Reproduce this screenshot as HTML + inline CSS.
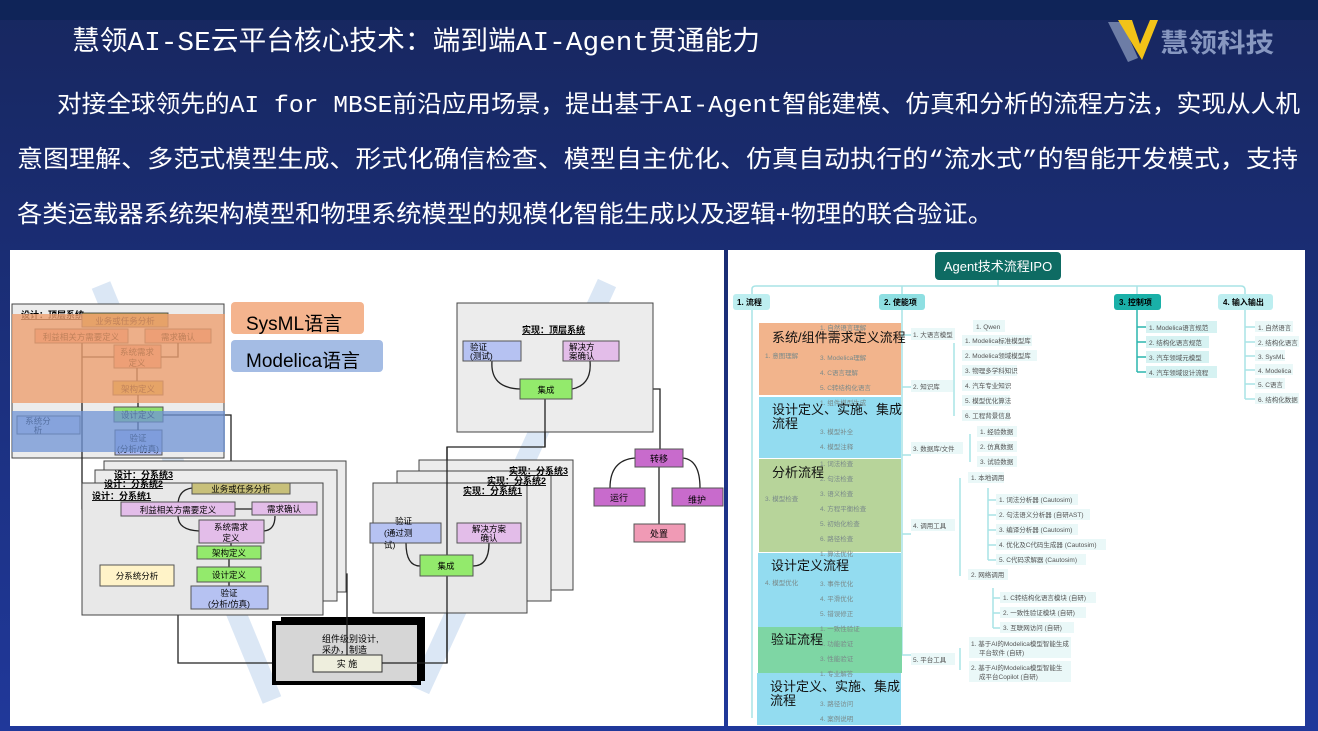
<!DOCTYPE html>
<html><head><meta charset="utf-8"><style>
html,body{margin:0;padding:0;width:1318px;height:731px;overflow:hidden;background:#1b2c72}
svg{display:block}
text{font-family:"Liberation Sans","Noto Sans CJK SC",sans-serif}
.m{font-family:"Liberation Mono","Noto Sans CJK SC",monospace}
</style></head><body>
<svg width="1318" height="731" viewBox="0 0 1318 731" xmlns="http://www.w3.org/2000/svg">
<defs>
<linearGradient id="bg" x1="0" y1="0" x2="0" y2="1"><stop offset="0" stop-color="#17275f"/><stop offset="1" stop-color="#20389a"/></linearGradient>
</defs>
<rect width="1318" height="731" fill="url(#bg)"/>
<rect width="1318" height="20" fill="#0f2458"/>
<!-- header -->
<text class="m" x="72" y="50" font-size="27" fill="#fff" textLength="688" lengthAdjust="spacingAndGlyphs">慧领AI-SE云平台核心技术：端到端AI-Agent贯通能力</text>
<text class="m" x="57" y="112" font-size="24" fill="#fff" textLength="1243" lengthAdjust="spacingAndGlyphs">对接全球领先的AI for MBSE前沿应用场景，提出基于AI-Agent智能建模、仿真和分析的流程方法，实现从人机</text>
<text class="m" x="17" y="167" font-size="24" fill="#fff" textLength="1281" lengthAdjust="spacingAndGlyphs">意图理解、多范式模型生成、形式化确信检查、模型自主优化、仿真自动执行的“流水式”的智能开发模式，支持</text>
<text class="m" x="17" y="222" font-size="24" fill="#fff" textLength="976" lengthAdjust="spacingAndGlyphs">各类运载器系统架构模型和物理系统模型的规模化智能生成以及逻辑+物理的联合验证。</text>
<!-- logo -->
<path d="M1108 22 L1122 22 L1138 58 L1128 62 Z" fill="#6d7da6"/>
<path d="M1118 20 L1132 20 L1140 44 L1150 20 L1158 20 L1142 60 Z" fill="#f2c318"/>
<text x="1160" y="52" font-size="26" fill="#8797c0" font-weight="bold" textLength="114" lengthAdjust="spacingAndGlyphs">慧领科技</text>

<!-- LEFT PANEL -->
<rect x="10" y="250" width="714" height="476" fill="#fff"/>
<line x1="101" y1="285" x2="272" y2="700" stroke="#dbe7f5" stroke-width="20"/>
<line x1="607" y1="283" x2="420" y2="690" stroke="#dbe7f5" stroke-width="20"/>
<!-- top design system -->
<rect x="12" y="304" width="212" height="154" fill="#ececec" stroke="#444" stroke-width="1"/>
<text x="21" y="318" font-size="9" font-weight="bold" text-decoration="underline">设计：顶层系统</text>
<g font-size="8.5" text-anchor="middle" stroke-width="1">
<rect x="82" y="313" width="86" height="14" fill="#c9a84a" stroke="#555"/><text x="125" y="324">业务或任务分析</text>
<rect x="35" y="329" width="93" height="14" fill="#e89a8a" stroke="#555"/><text x="81" y="340">利益相关方需要定义</text>
<rect x="145" y="329" width="66" height="14" fill="#e89a8a" stroke="#555"/><text x="178" y="340">需求确认</text>
<rect x="114" y="345" width="47" height="23" fill="#e89a8a" stroke="#555"/><text x="137" y="355">系统需求</text><text x="137" y="366">定义</text>
<rect x="113" y="381" width="50" height="14" fill="#c9b640" stroke="#555"/><text x="138" y="392">架构定义</text>
<rect x="114" y="407" width="49" height="15" fill="#8fe070" stroke="#555"/><text x="138" y="418">设计定义</text>
<rect x="115" y="430" width="47" height="25" fill="#aab8f0" stroke="#555"/><text x="138" y="441">验证</text><text x="138" y="452">(分析/仿真)</text>
<rect x="17" y="416" width="63" height="18" fill="#c8d0f0" stroke="#555"/><text x="38" y="424">系统分</text><text x="38" y="433">析</text>
</g>
<g fill="none" stroke="#222" stroke-width="1.3">
<path d="M82 343 V509 H121"/><path d="M82 357 H114"/><path d="M178 343 V357 H161"/>
<path d="M137 368 V381"/><path d="M138 395 V407"/><path d="M138 422 V430"/>
<path d="M163 415 H231 V483"/><path d="M178 488 V663 H313"/>
<path d="M261 574 H347 V655"/>
<path d="M382 663 H447 V447 H545 V399"/>
<path d="M572 389 H660 V449"/><path d="M659 467 V524"/>
<path d="M635 458 Q610 460 610 488"/><path d="M683 458 Q700 460 700 488"/>
</g>
<!-- overlays -->
<rect x="12" y="314" width="213" height="89" fill="#eda070" opacity="0.8"/>
<rect x="12" y="411" width="213" height="41" fill="#7094d6" opacity="0.75"/>
<rect x="231" y="302" width="133" height="32" rx="4" fill="#f4b48e"/>
<text x="246" y="330" font-size="19">SysML语言</text>
<rect x="231" y="340" width="152" height="32" rx="4" fill="#a4bce4"/>
<text x="246" y="367" font-size="19">Modelica语言</text>
<!-- subsystem stacks -->
<rect x="104" y="461" width="242" height="131" fill="#ececec" stroke="#444"/>
<rect x="95" y="470" width="242" height="131" fill="#ececec" stroke="#444"/>
<rect x="82" y="483" width="241" height="132" fill="#e8e8e8" stroke="#444"/>
<g font-size="9" font-weight="bold" text-decoration="underline">
<text x="114" y="478">设计：分系统3</text><text x="104" y="487">设计：分系统2</text><text x="92" y="499">设计：分系统1</text>
</g>
<g fill="none" stroke="#222" stroke-width="1.3">
<path d="M192 488 Q178 490 178 505"/><path d="M235 509 H252"/><path d="M178 516 Q178 530 199 531"/><path d="M275 516 Q275 530 264 531"/>
<path d="M231 543 V546"/><path d="M229 559 V567"/><path d="M229 582 V586"/>
</g>
<g font-size="8.5" text-anchor="middle">
<rect x="192" y="483" width="98" height="11" fill="#c8c07a" stroke="#555"/><text x="241" y="492">业务或任务分析</text>
<rect x="121" y="502" width="114" height="14" fill="#e3bde9" stroke="#555"/><text x="178" y="513">利益相关方需要定义</text>
<rect x="252" y="502" width="65" height="13" fill="#e3bde9" stroke="#555"/><text x="284" y="512">需求确认</text>
<rect x="199" y="520" width="65" height="23" fill="#e3bde9" stroke="#555"/><text x="231" y="530">系统需求</text><text x="231" y="541">定义</text>
<rect x="197" y="546" width="64" height="13" fill="#93ea6c" stroke="#555"/><text x="229" y="556">架构定义</text>
<rect x="197" y="567" width="64" height="15" fill="#93ea6c" stroke="#555"/><text x="229" y="578">设计定义</text>
<rect x="191" y="586" width="77" height="23" fill="#b6c2f2" stroke="#555"/><text x="229" y="596">验证</text><text x="229" y="607">(分析/仿真)</text>
<rect x="100" y="565" width="74" height="21" fill="#fff3c8" stroke="#555"/><text x="137" y="579">分系统分析</text>
</g>
<!-- implementation -->
<rect x="281" y="617" width="144" height="64" fill="#000"/>
<rect x="274" y="623" width="145" height="60" fill="#d6d6d6" stroke="#000" stroke-width="4"/>
<text x="322" y="642" font-size="9">组件级别设计,</text><text x="322" y="653" font-size="9">采办，制造</text>
<rect x="313" y="655" width="69" height="17" fill="#eeeedd" stroke="#333"/><text x="347" y="667" font-size="9" text-anchor="middle">实 施</text>
<path d="M347 617 V655 M382 663 H425" stroke="#222" stroke-width="1.3"/>
<!-- realization top -->
<rect x="457" y="303" width="196" height="129" fill="#ececec" stroke="#444"/>
<text x="522" y="333" font-size="9" font-weight="bold" text-decoration="underline">实现：顶层系统</text>
<g fill="none" stroke="#222" stroke-width="1.3"><path d="M492 361 Q490 388 520 389"/><path d="M590 361 Q592 385 572 389"/><path d="M545 399 V447"/></g>
<g font-size="8.5">
<rect x="463" y="341" width="58" height="20" fill="#b6c2f2" stroke="#555"/><text x="470" y="350">验证</text><text x="470" y="359">(测试)</text>
<rect x="563" y="341" width="56" height="20" fill="#e3bde9" stroke="#555"/><text x="569" y="350">解决方</text><text x="569" y="359">案确认</text>
<rect x="520" y="379" width="52" height="20" fill="#93ea6c" stroke="#555"/><text x="546" y="393" text-anchor="middle">集成</text>
</g>
<!-- realization stack -->
<rect x="419" y="460" width="154" height="130" fill="#ececec" stroke="#444"/>
<rect x="397" y="471" width="154" height="130" fill="#ececec" stroke="#444"/>
<rect x="373" y="483" width="154" height="130" fill="#e8e8e8" stroke="#444"/>
<g font-size="9" font-weight="bold" text-decoration="underline">
<text x="509" y="474">实现：分系统3</text><text x="487" y="484">实现：分系统2</text><text x="463" y="494">实现：分系统1</text>
</g>
<path d="M447 447 V663" stroke="#222" stroke-width="1.3" fill="none"/>
<g fill="none" stroke="#222" stroke-width="1.3"><path d="M406 543 Q406 566 420 566"/><path d="M489 543 Q489 566 473 566"/></g>
<g font-size="8.5">
<rect x="370" y="523" width="71" height="20" fill="#b6c2f2" stroke="#555"/><text x="395" y="524">验证</text><text x="384" y="536">(通过测</text><text x="384" y="548">试)</text>
<rect x="457" y="523" width="64" height="20" fill="#e3bde9" stroke="#555"/><text x="489" y="532" text-anchor="middle">解决方案</text><text x="489" y="541" text-anchor="middle">确认</text>
<rect x="420" y="555" width="53" height="21" fill="#93ea6c" stroke="#555"/><text x="446" y="569" text-anchor="middle">集成</text>
</g>
<g font-size="9" text-anchor="middle">
<rect x="635" y="449" width="48" height="18" fill="#c86bcc" stroke="#555"/><text x="659" y="462">转移</text>
<rect x="594" y="488" width="51" height="18" fill="#c86bcc" stroke="#555"/><text x="619" y="501">运行</text>
<rect x="672" y="488" width="51" height="18" fill="#c86bcc" stroke="#555"/><text x="697" y="503">维护</text>
<rect x="634" y="524" width="51" height="18" fill="#f09ab5" stroke="#555"/><text x="659" y="537">处置</text>
</g>

<!-- RIGHT PANEL -->
<rect x="728" y="250" width="577" height="476" fill="#fff"/>
<g fill="none" stroke="#a8e4e6" stroke-width="1.5">
<path d="M752 294 V289 Q752 286 756 286 H1241 Q1245 286 1245 290 V294"/>
<path d="M998 280 V286"/><path d="M902 286 V294"/><path d="M1137 286 V294"/>
<path d="M752 310 V718"/>
<path d="M902 310 V335 M902 335 H911 M902 310 V387 H911 M902 387 V455 H911 M902 455 V534 H911 M902 534 V655 H911"/>
<path d="M1137 310 V372 M1137 327 H1146 M1137 342 H1146 M1137 357 H1146 M1137 372 H1146" stroke="#2bb5ae"/>
<path d="M1245 310 V399 M1245 327 H1255 M1245 342 H1255 M1245 356 H1255 M1245 370 H1255 M1245 384 H1255 M1245 399 H1255"/>
<path d="M954 343 V416"/><path d="M970 434 V462"/><path d="M960 478 V576"/><path d="M988 488 V560 M988 500 H996 M988 515 H996 M988 530 H996 M988 545 H996 M988 560 H996"/>
<path d="M993 588 V628 M993 598 H1000 M993 613 H1000 M993 628 H1000"/><path d="M960 648 V670"/>
</g>
<rect x="935" y="252" width="126" height="28" rx="4" fill="#0e6b63"/>
<text x="998" y="271" font-size="13" fill="#fff" text-anchor="middle">Agent技术流程IPO</text>
<g font-size="8" font-weight="bold">
<rect x="733" y="294" width="37" height="16" rx="3" fill="#bdeef0"/><text x="737" y="305">1. 流程</text>
<rect x="879" y="294" width="46" height="16" rx="3" fill="#8edfe2"/><text x="884" y="305">2. 使能项</text>
<rect x="1114" y="294" width="47" height="16" rx="3" fill="#1ab0a8"/><text x="1119" y="305">3. 控制项</text>
<rect x="1218" y="294" width="55" height="16" rx="3" fill="#bdeef0"/><text x="1223" y="305">4. 输入输出</text>
</g>
<g font-size="6.5" fill="#555">
<rect x="911" y="328" width="44" height="12" fill="#eaf8f8"/><text x="913" y="337">1. 大语言模型</text>
<rect x="973" y="320" width="32" height="12" fill="#eaf8f8"/><text x="976" y="329">1. Qwen</text>
<rect x="911" y="380" width="42" height="12" fill="#eaf8f8"/><text x="913" y="389">2. 知识库</text>
<g>
<rect x="962" y="335" width="70" height="11" fill="#eaf8f8"/><text x="965" y="343">1. Modelica标准模型库</text>
<rect x="962" y="350" width="75" height="11" fill="#eaf8f8"/><text x="965" y="358">2. Modelica领域模型库</text>
<rect x="962" y="365" width="55" height="11" fill="#eaf8f8"/><text x="965" y="373">3. 物理多学科知识</text>
<rect x="962" y="380" width="48" height="11" fill="#eaf8f8"/><text x="965" y="388">4. 汽车专业知识</text>
<rect x="962" y="395" width="48" height="11" fill="#eaf8f8"/><text x="965" y="403">5. 模型优化算法</text>
<rect x="962" y="410" width="48" height="11" fill="#eaf8f8"/><text x="965" y="418">6. 工程背景信息</text>
</g>
<rect x="911" y="442" width="52" height="12" fill="#eaf8f8"/><text x="913" y="451">3. 数据库/文件</text>
<rect x="977" y="426" width="40" height="11" fill="#eaf8f8"/><text x="980" y="434">1. 经验数据</text>
<rect x="977" y="441" width="40" height="11" fill="#eaf8f8"/><text x="980" y="449">2. 仿真数据</text>
<rect x="977" y="456" width="40" height="11" fill="#eaf8f8"/><text x="980" y="464">3. 试验数据</text>
<rect x="911" y="519" width="44" height="12" fill="#eaf8f8"/><text x="913" y="528">4. 调用工具</text>
<rect x="968" y="472" width="36" height="11" fill="#eaf8f8"/><text x="971" y="480">1. 本地调用</text>
<rect x="996" y="494" width="82" height="11" fill="#eaf8f8"/><text x="999" y="502">1. 词法分析器 (Cautosim)</text>
<rect x="996" y="509" width="94" height="11" fill="#eaf8f8"/><text x="999" y="517">2. 句法语义分析器 (自研AST)</text>
<rect x="996" y="524" width="82" height="11" fill="#eaf8f8"/><text x="999" y="532">3. 编译分析器 (Cautosim)</text>
<rect x="996" y="539" width="110" height="11" fill="#eaf8f8"/><text x="999" y="547">4. 优化及C代码生成器 (Cautosim)</text>
<rect x="996" y="554" width="90" height="11" fill="#eaf8f8"/><text x="999" y="562">5. C代码求解器 (Cautosim)</text>
<rect x="968" y="569" width="40" height="11" fill="#eaf8f8"/><text x="971" y="577">2. 网络调用</text>
<rect x="1000" y="592" width="96" height="11" fill="#eaf8f8"/><text x="1003" y="600">1. C转结构化语言模块 (自研)</text>
<rect x="1000" y="607" width="86" height="11" fill="#eaf8f8"/><text x="1003" y="615">2. 一致性验证模块 (自研)</text>
<rect x="1000" y="622" width="74" height="11" fill="#eaf8f8"/><text x="1003" y="630">3. 互联网访问 (自研)</text>
<rect x="911" y="653" width="44" height="12" fill="#eaf8f8"/><text x="913" y="662">5. 平台工具</text>
<rect x="969" y="637" width="102" height="21" fill="#eaf8f8"/><text x="971" y="646">1. 基于AI的Modelica模型智能生成</text><text x="979" y="655">平台软件 (自研)</text>
<rect x="969" y="661" width="102" height="21" fill="#eaf8f8"/><text x="971" y="670">2. 基于AI的Modelica模型智能生</text><text x="979" y="679">成平台Copilot (自研)</text>
<rect x="1146" y="321" width="71" height="12" fill="#d6f2f2"/><text x="1149" y="330">1. Modelica语言规范</text>
<rect x="1146" y="336" width="63" height="12" fill="#d6f2f2"/><text x="1149" y="345">2. 结构化语言规范</text>
<rect x="1146" y="351" width="63" height="12" fill="#d6f2f2"/><text x="1149" y="360">3. 汽车领域元模型</text>
<rect x="1146" y="366" width="71" height="12" fill="#d6f2f2"/><text x="1149" y="375">4. 汽车领域设计流程</text>
<rect x="1255" y="321" width="38" height="11" fill="#eaf8f8"/><text x="1258" y="330">1. 自然语言</text>
<rect x="1255" y="336" width="44" height="11" fill="#eaf8f8"/><text x="1258" y="345">2. 结构化语言</text>
<rect x="1255" y="350" width="30" height="11" fill="#eaf8f8"/><text x="1258" y="359">3. SysML</text>
<rect x="1255" y="364" width="38" height="11" fill="#eaf8f8"/><text x="1258" y="373">4. Modelica</text>
<rect x="1255" y="378" width="30" height="11" fill="#eaf8f8"/><text x="1258" y="387">5. C语言</text>
<rect x="1255" y="393" width="44" height="11" fill="#eaf8f8"/><text x="1258" y="402">6. 结构化数据</text>
</g>
<!-- colored process blocks -->
<rect x="759" y="323" width="142" height="72" fill="#f2b48c"/>
<rect x="759" y="397" width="142" height="61" fill="#93dcf0"/>
<rect x="759" y="459" width="142" height="93" fill="#b7d49a"/>
<rect x="758" y="553" width="143" height="74" fill="#93dcf0"/>
<rect x="758" y="627" width="144" height="46" fill="#7ed6a4"/>
<rect x="757" y="673" width="144" height="52" fill="#93dcf0"/>
<g font-size="6.5" fill="#7a8a8a">
<text x="820" y="330">1. 自然语言理解</text><text x="765" y="358">1. 意图理解</text><text x="820" y="360">3. Modelica理解</text><text x="820" y="375">4. C语言理解</text><text x="820" y="390">5. C转结构化语言</text>
<text x="820" y="405">1. 组件模型生成</text><text x="820" y="434">3. 模型补全</text><text x="820" y="449">4. 模型注释</text>
<text x="820" y="466">1. 词法检查</text><text x="820" y="481">2. 句法检查</text><text x="820" y="496">3. 语义检查</text><text x="820" y="511">4. 方程平衡检查</text><text x="820" y="526">5. 初始化检查</text><text x="820" y="541">6. 路径检查</text><text x="765" y="501">3. 模型检查</text>
<text x="820" y="556">1. 算法优化</text><text x="820" y="586">3. 事件优化</text><text x="820" y="601">4. 平滑优化</text><text x="820" y="616">5. 错误修正</text><text x="765" y="585">4. 模型优化</text>
<text x="820" y="631">1. 一致性验证</text><text x="820" y="646">2. 功能验证</text><text x="820" y="661">3. 性能验证</text>
<text x="820" y="676">1. 专业解答</text><text x="820" y="706">3. 路径访问</text><text x="820" y="721">4. 案例说明</text>
</g>
<g font-size="13" fill="#111">
<text x="772" y="342">系统/组件需求定义流程</text>
<text x="772" y="414">设计定义、实施、集成</text><text x="772" y="428">流程</text>
<text x="772" y="477">分析流程</text>
<text x="771" y="570">设计定义流程</text>
<text x="771" y="644">验证流程</text>
<text x="770" y="691">设计定义、实施、集成</text><text x="770" y="705">流程</text>
</g>
</svg>
</body></html>
